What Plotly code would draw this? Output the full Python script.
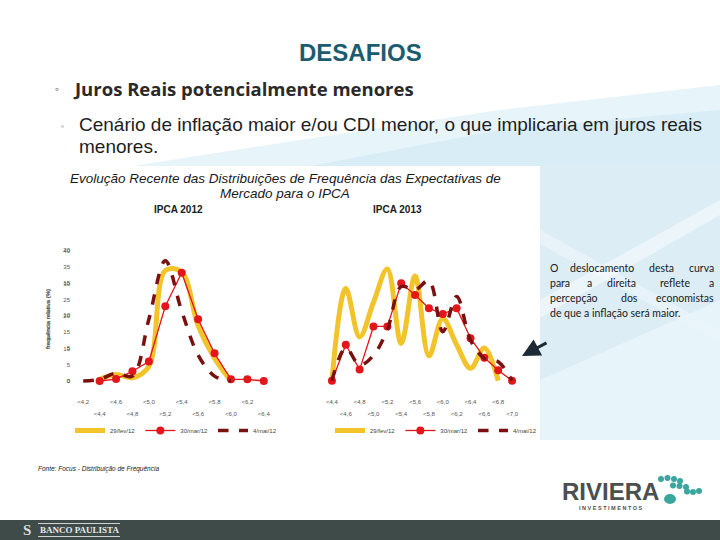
import plotly.graph_objects as go

W, H = 720, 540
def X(px): return px / W
def Y(py): return 1 - py / H

# ---------------- data ----------------
cats_2012 = ["<4,2", "<4,4", "<4,6", "<4,8", "<5,0", "<5,2", "<5,4", "<5,6", "<5,8", "<6,0", "<6,2", "<6,4"]
fev_2012 = [None, 0.5, 2.0, 1.0, 4.5, 34.0, 33.5, 17.0, 7.0, 0.0, None, None]
mar_2012 = [None, 0.0, 0.6, 3.0, 6.0, 23.0, 33.3, 19.0, 8.5, 0.5, 0.5, 0.0]
mai_2012 = [0.0, 0.5, 2.4, 1.5, 19.0, 37.0, 21.5, 8.0, 1.5, 0.0, None, None]

cats_2013 = ["<4,4", "<4,6", "<4,8", "<5,0", "<5,2", "<5,4", "<5,6", "<5,8", "<6,0", "<6,2", "<6,4", "<6,6", "<6,8", "<7,0"]
fev_2013 = [0.0, 14.1, 6.7, 12.0, 17.1, 5.7, 16.0, 3.8, 9.5, 5.5, 1.9, 5.0, 0.0, None]
mar_2013 = [0.0, 5.5, 1.7, 8.3, 8.3, 14.9, 13.1, 11.1, 10.2, 11.1, 6.5, 3.5, 1.6, 0.0]
mai_2013 = [0.0, 5.0, 2.4, 3.9, 7.8, 14.4, 13.9, 15.3, 7.5, 12.9, 6.2, 3.4, 2.9, 0.0]

series_names = ["29/fev/12", "30/mar/12", "4/mai/12"]
yticks_2012 = [0, 5, 10, 15, 20, 25, 30, 35, 40]
yticks_2013 = [0, 5, 10, 15, 20]

YELLOW = "#f2c42a"
RED = "#e3161c"
DARK = "#7a1010"

fig = go.Figure()

def add_series(xs, fev, mar, mai, xa, ya, leg):
    idx = list(range(len(xs)))
    fig.add_trace(go.Scatter(x=idx, y=fev, name=series_names[0], mode="lines",
                             line=dict(color=YELLOW, width=5, shape="spline", smoothing=1),
                             xaxis=xa, yaxis=ya, legend=leg))
    fig.add_trace(go.Scatter(x=idx, y=mar, name=series_names[1], mode="lines+markers",
                             line=dict(color=RED, width=1.3),
                             marker=dict(color=RED, size=8),
                             xaxis=xa, yaxis=ya, legend=leg, cliponaxis=False))
    fig.add_trace(go.Scatter(x=idx, y=mai, name=series_names[2], mode="lines",
                             line=dict(color=DARK, width=3.5, dash="dash", shape="spline", smoothing=1),
                             xaxis=xa, yaxis=ya, legend=leg))

add_series(cats_2012, fev_2012, mar_2012, mai_2012, "x", "y", "legend")
add_series(cats_2013, fev_2013, mar_2013, mai_2013, "x2", "y2", "legend2")
# carriers for the second row of tick labels
fig.add_trace(go.Scatter(x=[], y=[], xaxis="x3", yaxis="y", showlegend=False))
fig.add_trace(go.Scatter(x=[], y=[], xaxis="x4", yaxis="y2", showlegend=False))

tickfont = dict(family="Liberation Sans, Arial", size=6, color="#555555")

def xax(domain, cats, parity, standoff, overlay=None, anchor="y"):
    n = len(cats)
    vals = [i for i in range(n) if i % 2 == parity]
    d = dict(range=[-0.5, n - 0.5], tickmode="array", tickvals=vals,
             ticktext=[cats[i] for i in vals], showgrid=False, zeroline=False,
             showline=False, ticks="", tickfont=tickfont, ticklabelstandoff=standoff,
             anchor=anchor, fixedrange=True)
    if overlay:
        d["overlaying"] = overlay
    else:
        d["domain"] = domain
    return d

def yax(domain, rng, ticks):
    return dict(domain=domain, range=rng, tickmode="array", tickvals=ticks,
                showgrid=False, zeroline=False, showline=False, ticks="",
                tickfont=tickfont, ticklabelstandoff=4, fixedrange=True,
                title=dict(text="frequência relativa (%)", font=dict(family="Liberation Sans, Arial", size=6, color="#444"), standoff=12))

left_x = [X(75), X(272)]
left_y = [Y(390.75), Y(247.75)]
right_x = [X(325), X(519)]
right_y = [Y(390.5), Y(246.7)]

fig.update_layout(
    width=W, height=H, margin=dict(l=0, r=0, t=0, b=0),
    paper_bgcolor="white", plot_bgcolor="rgba(0,0,0,0)",
    xaxis=xax(left_x, cats_2012, 0, 6, anchor="y"),
    xaxis3=xax(None, cats_2012, 1, 18, overlay="x", anchor="y"),
    yaxis=yax(left_y, [-3, 41], yticks_2012),
    xaxis2=xax(right_x, cats_2013, 0, 6, anchor="y2"),
    xaxis4=xax(None, cats_2013, 1, 18, overlay="x2", anchor="y2"),
    yaxis2=yax(right_y, [-1.5, 20.5], yticks_2013),
    legend=dict(orientation="h", x=X(70), y=Y(416), xanchor="left", yanchor="top",
                font=dict(family="Liberation Sans, Arial", size=6, color="#444"),
                bgcolor="rgba(0,0,0,0)", itemwidth=30, tracegroupgap=0),
    legend2=dict(orientation="h", x=X(330), y=Y(416), xanchor="left", yanchor="top",
                 font=dict(family="Liberation Sans, Arial", size=6, color="#444"),
                 bgcolor="rgba(0,0,0,0)", itemwidth=30, tracegroupgap=0),
)

# ---------------- background shapes ----------------
shapes = []
def rect(x0, y0, x1, y1, color, opacity=1.0, layer="below"):
    shapes.append(dict(type="rect", xref="paper", yref="paper", x0=X(x0), x1=X(x1),
                       y0=Y(y1), y1=Y(y0), fillcolor=color, line=dict(width=0),
                       opacity=opacity, layer=layer))
def path(pts, color, opacity=1.0):
    p = "M " + " L ".join(f"{X(a):.4f},{Y(b):.4f}" for a, b in pts) + " Z"
    shapes.append(dict(type="path", xref="paper", yref="paper", path=p,
                       fillcolor=color, line=dict(width=0), opacity=opacity, layer="below"))

# light blue sweeps
path([(120, 168), (300, 140), (500, 110), (720, 85), (720, 168)], "#d4ebf5", 0.55)
path([(300, 168), (500, 130), (720, 110), (720, 168)], "#c6e4f1", 0.45)
rect(540, 165, 720, 440, "#dcedf6")
path([(540, 300), (720, 200), (720, 215), (540, 318)], "#ffffff", 0.45)
path([(540, 230), (720, 330), (720, 342), (540, 244)], "#ffffff", 0.35)
path([(540, 380), (720, 300), (720, 440), (540, 440)], "#eaf5fb", 0.8)
# chart panel
rect(56, 166, 540, 430, "#ffffff")
# footer bar
rect(0, 520, 720, 540, "#3f4b49")
rect(38, 523, 120, 524, "#cfd3d2")
rect(38, 536, 120, 537, "#cfd3d2")

# Riviera dots
dots = [(661, 479, 3), (667.5, 478, 3), (674, 479, 3), (680, 481, 3),
        (673, 485.5, 3), (679.5, 486, 3), (686, 487, 3),
        (687, 491.5, 3), (693, 492, 3), (699, 491, 3),
        (670, 499, 6)]
for cx, cy, r in dots:
    ry = r * (0.85 if r > 4 else 1)
    shapes.append(dict(type="circle", xref="paper", yref="paper",
                       x0=X(cx - r), x1=X(cx + r), y0=Y(cy + ry), y1=Y(cy - ry),
                       fillcolor="#3aa79f", line=dict(width=0), layer="above"))
fig.update_layout(shapes=shapes)

# ---------------- text ----------------
ann = []
def txt(x, y, s, size, color="#222222", family="Liberation Sans, Arial", xanchor="left",
        bold=False, italic=False, angle=0):
    t = s
    if bold: t = f"<b>{t}</b>"
    if italic: t = f"<i>{t}</i>"
    ann.append(dict(x=X(x), y=Y(y), xref="paper", yref="paper", text=t, showarrow=False,
                    xanchor=xanchor, yanchor="middle", textangle=angle,
                    font=dict(family=family, size=size, color=color)))

txt(360, 52, "DESAFIOS", 24, color="#1b5c6e", xanchor="center", bold=True)
txt(57, 89, "◦", 12, color="#2d2d2d", xanchor="center")
txt(71, 89, "Juros Reais potencialmente menores", 18.5, color="#2a2a2a", family="Open Sans", bold=True)
txt(63, 127, "◦", 8, color="#2d2d2d", xanchor="center")
txt(77, 124, "Cenário de inflação maior e/ou CDI menor, o que implicaria em juros reais", 19,
    color="#1e1e1e", family="Liberation Sans Narrow, Liberation Sans")
txt(77, 146, "menores.", 19, color="#1e1e1e", family="Liberation Sans Narrow, Liberation Sans")

txt(285, 178.5, "Evolução Recente das Distribuições de Frequência das Expectativas de", 13.5,
    color="#1a1a1a", xanchor="center", italic=True)
txt(285, 193.5, "Mercado para o IPCA", 13.5, color="#1a1a1a", xanchor="center", italic=True)
txt(178, 209, "IPCA 2012", 10, color="#1a1a1a", xanchor="center", bold=True)
txt(397, 209, "IPCA 2013", 10, color="#1a1a1a", xanchor="center", bold=True)

txt(36, 469, "Fonte: Focus - Distribuição de Frequência", 6.5, color="#222", italic=True)

# right note box
note_lines = ["O deslocamento desta curva", "para a direita reflete a",
              "percepção dos economistas", "de que a inflação será maior."]
for i, line in enumerate(note_lines):
    ys = 268 + i * 15
    words = line.split(" ")
    if i < len(note_lines) - 1:
        widths = [len(w) * 5.4 for w in words]
        gap = (168 - sum(widths)) / (len(words) - 1)
        xp = 548
        for j, (w, wd) in enumerate(zip(words, widths)):
            if j == len(words) - 1:
                txt(716, ys, w, 10.5, color="#1a1a1a", family="Lato", xanchor="right")
            else:
                txt(xp, ys, w, 10.5, color="#1a1a1a", family="Lato")
            xp += wd + gap
    else:
        txt(548, ys, line, 10.5, color="#1a1a1a", family="Lato")

# arrow
ann.append(dict(x=X(522), y=Y(356), xref="paper", yref="paper", ax=26, ay=-14,
                showarrow=True, arrowhead=2, arrowsize=1.2, arrowwidth=3, arrowcolor="#1d2b36", text=""))

# logos
txt(610, 491, "RIVIERA", 24, color="#4b4f4f", family="Liberation Sans Narrow, Liberation Sans", xanchor="center", bold=True)
txt(611, 508, "I N V E S T I M E N T O S", 5.5, color="#4b4f4f", xanchor="center", bold=True)
txt(27, 530, "S", 15, color="#d8dcdb", family="Liberation Serif", xanchor="center", bold=True)
txt(38, 530, "BANCO PAULISTA", 9, color="#e6e8e8", family="Liberation Serif", bold=True)

fig.update_layout(annotations=ann)

fig.write_html("out.html", config={"displayModeBar": False},
               post_script="document.body.style.margin='0';")
